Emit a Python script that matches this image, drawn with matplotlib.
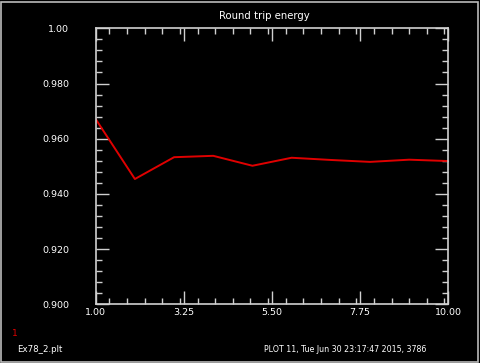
import matplotlib
matplotlib.use("Agg")
import matplotlib.pyplot as plt
from matplotlib.ticker import FixedLocator, MultipleLocator
from matplotlib.patches import Rectangle

x_vals = [1, 2, 3, 4, 5, 6, 7, 8, 9, 10]
energy = [0.9671, 0.9454, 0.9533, 0.9538, 0.9502, 0.9531, 0.9523, 0.9516, 0.9524, 0.9519]
x_major = [1.00, 3.25, 5.50, 7.75, 10.00]
x_labels = ["1.00", "3.25", "5.50", "7.75", "10.00"]
y_major = [0.900, 0.920, 0.940, 0.960, 0.980, 1.00]
y_labels = ["0.900", "0.920", "0.940", "0.960", "0.980", "1.00"]

fg = "#d0d0d0"
fig = plt.figure(figsize=(4.8, 3.63), dpi=100, facecolor="black")
fig.patches.append(Rectangle((0.002, 0.004), 0.993, 0.99, transform=fig.transFigure,
                             fill=False, edgecolor="#bbbbbb", linewidth=1.2))
ax = fig.add_axes([0.1994, 0.1617, 0.7346, 0.7603], facecolor="black")
ax.plot(x_vals, energy, color="#e00000", linewidth=1.4)
ax.set_xlim(1, 10)
ax.set_ylim(0.9, 1.0)
ax.xaxis.set_major_locator(FixedLocator(x_major))
ax.set_xticklabels(x_labels)
ax.xaxis.set_minor_locator(MultipleLocator(0.45))
ax.yaxis.set_major_locator(FixedLocator(y_major))
ax.set_yticklabels(y_labels)
ax.yaxis.set_minor_locator(MultipleLocator(0.004))
for s in ax.spines.values():
    s.set_color(fg)
    s.set_linewidth(1.2)
ax.tick_params(which="both", direction="in", top=True, right=True, color=fg, width=1.0,
               labelcolor="white", labelsize=6.8)
ax.tick_params(which="major", length=9.5)
ax.tick_params(which="minor", length=4.5)
ax.tick_params(axis="y", which="major", pad=19)
ax.tick_params(axis="x", which="major", pad=3)
fig.text(0.55, 0.955, "Round trip energy", color="white", fontsize=7.3, ha="center", va="center")
fig.text(0.024, 0.08, "1", color="#e00000", fontsize=6.5, ha="left", va="center")
fig.text(0.035, 0.036, "Ex78_2.plt", color="white", fontsize=6.2, ha="left", va="center")
fig.text(0.55, 0.036, "PLOT 11, Tue Jun 30 23:17:47 2015, 3786", color="white", fontsize=5.7,
         ha="left", va="center")
fig.savefig("out.png", dpi=100, facecolor="black")
